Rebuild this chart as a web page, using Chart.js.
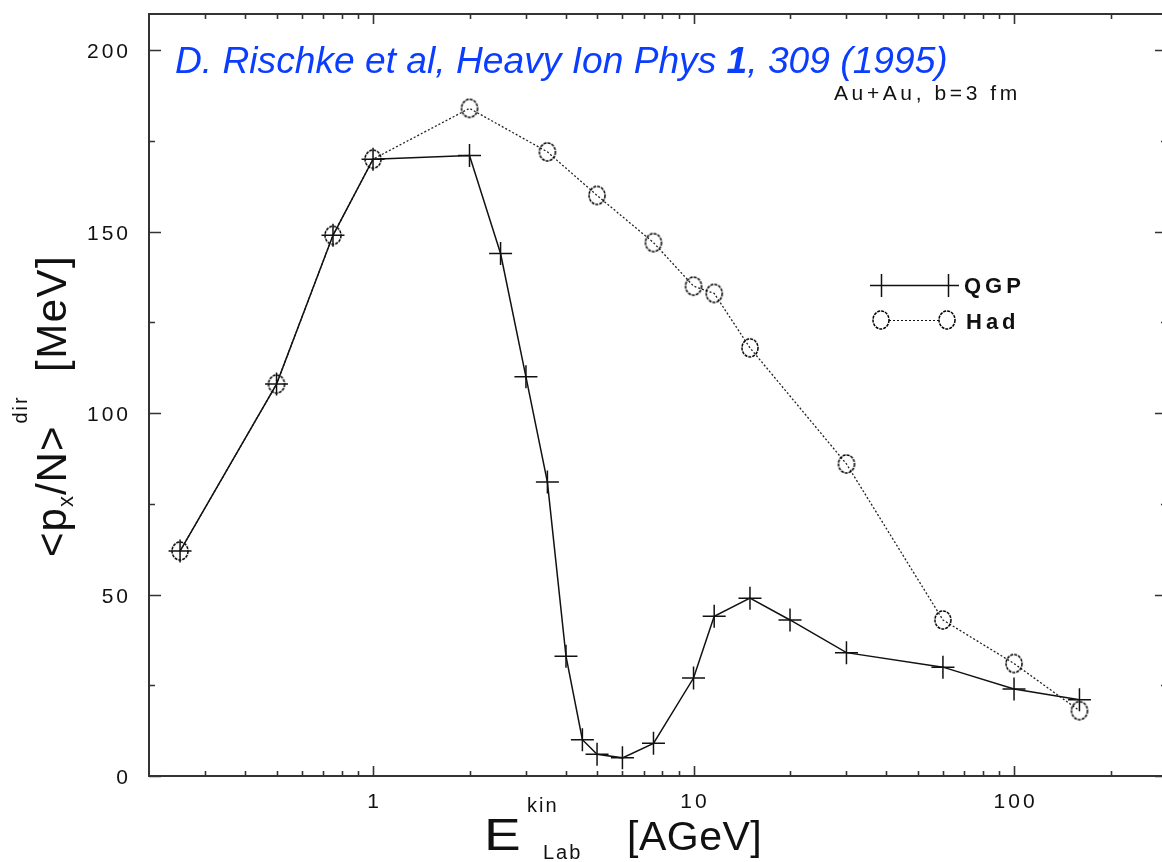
<!DOCTYPE html>
<html><head><meta charset="utf-8">
<script src="https://cdn.jsdelivr.net/npm/chart.js@4"></script>
<style>
html,body{margin:0;padding:0;background:#fff;overflow:hidden;width:1162px;height:862px}
#wrap{position:relative;width:1162px;height:862px}
</style>
</head><body>
<div id="wrap"><canvas id="c" width="1162" height="862"></canvas></div>
<script>
// ---- data ----
const qgpEnergy = [0.25, 0.5, 0.75, 1, 2, 2.5, 3, 3.5, 4, 4.5, 5, 6, 7.5, 10, 11.6, 15, 20, 30, 60, 100, 160];
const qgpFlow   = [62, 108, 149, 170, 171, 144, 110, 81, 33, 10, 6, 5, 9, 27, 44, 49, 43, 34, 30, 24, 21];
const hadEnergy = [0.25, 0.5, 0.75, 1, 2, 3.5, 5, 7.5, 10, 11.6, 15, 30, 60, 100, 160];
const hadFlow   = [62, 108, 149, 170, 184, 172, 160, 147, 135, 133, 118, 86, 43, 31, 18];
const seriesNames = ['QGP', 'Had'];

// x axis: frame spans 0.2 .. 300, picture is cut at about 289.5
const xMin = 0.2, xVisibleMax = 289.5, xFrameMax = 300;
const xTickValues = [0.3,0.4,0.5,0.6,0.7,0.8,0.9,1,2,3,4,5,6,7,8,9,10,20,30,40,50,60,70,80,90,100,200];
const xMajor = [1, 10, 100];
const xTickLabels = ['1', '10', '100'];
const yMin = 0, yMax = 210;
const yTickValues = [0,25,50,75,100,125,150,175,200];
const yMajor = [0, 50, 100, 150, 200];
const yTickLabels = ['0', '50', '100', '150', '200'];

const annotation = ['D. Rischke et al, Heavy Ion Phys ', '1', ', 309 (1995)'];
const subtitle = 'Au+Au, b=3 fm';

const FONT = '"Liberation Sans", Arial, Helvetica, sans-serif';

function circleImg(){
  const c = document.createElement('canvas'); c.width = 20; c.height = 22;
  const g = c.getContext('2d');
  g.strokeStyle = '#000'; g.lineWidth = 1.5; g.setLineDash([3, 1]);
  g.beginPath(); g.ellipse(10, 11, 8, 9, 0, 0, Math.PI*2); g.stroke();
  return c;
}
const hadMarker = circleImg();

function txt(ctx, s, x, y, size, opts){
  opts = opts || {};
  ctx.save();
  ctx.font = (opts.style||'') + ' ' + (opts.weight||'') + ' ' + size + 'px ' + FONT;
  ctx.letterSpacing = (opts.ls||0) + 'px';
  ctx.fillStyle = opts.color || '#111';
  ctx.textAlign = opts.align || 'left';
  ctx.textBaseline = opts.baseline || 'alphabetic';
  ctx.fillText(s, x, y);
  const w = ctx.measureText(s).width;
  ctx.restore();
  return w;
}
function measure(ctx, s, size, opts){
  opts = opts || {};
  ctx.save();
  ctx.font = (opts.style||'') + ' ' + (opts.weight||'') + ' ' + size + 'px ' + FONT;
  ctx.letterSpacing = (opts.ls||0) + 'px';
  const w = ctx.measureText(s).width; ctx.restore(); return w;
}
function noPad(s){ s.paddingTop = 0; s.paddingBottom = 0; s.paddingLeft = 0; s.paddingRight = 0; }

const decor = {
  id: 'decor',
  afterDraw(chart){
    const ctx = chart.ctx;
    const xs = chart.scales.x, ys = chart.scales.y;
    const fx0 = xs.getPixelForValue(xMin), fx1 = xs.getPixelForValue(xFrameMax);
    const fy0 = ys.getPixelForValue(yMax), fy1 = ys.getPixelForValue(yMin);
    ctx.save();
    // frame
    ctx.strokeStyle = '#333'; ctx.lineWidth = 2;
    ctx.strokeRect(fx0, fy0, fx1 - fx0, fy1 - fy0);
    // inward ticks
    ctx.lineWidth = 1.6; ctx.beginPath();
    xTickValues.forEach(v => {
      const px = Math.round(xs.getPixelForValue(v)) + 0.5;
      const L = xMajor.includes(v) ? 10 : 5;
      ctx.moveTo(px, fy1); ctx.lineTo(px, fy1 - L);
      ctx.moveTo(px, fy0); ctx.lineTo(px, fy0 + L);
    });
    yTickValues.forEach(v => {
      const py = Math.round(ys.getPixelForValue(v)) + 0.5;
      const L = yMajor.includes(v) ? 12 : 6;
      ctx.moveTo(fx0, py); ctx.lineTo(fx0 + L, py);
      ctx.moveTo(fx1, py); ctx.lineTo(fx1 - L, py);
    });
    ctx.stroke();
    ctx.restore();

    // tick labels, placed by the scales
    xMajor.forEach((v, i) => {
      txt(ctx, xTickLabels[i], xs.getPixelForValue(v) + 1.5, fy1 + 32, 21, {ls: 3, align: 'center'});
    });
    yMajor.forEach((v, i) => {
      txt(ctx, yTickLabels[i], fx0 - 18, ys.getPixelForValue(v) + 8, 21, {ls: 3, align: 'right'});
    });

    // legend
    ctx.save();
    ctx.strokeStyle = '#111'; ctx.lineWidth = 1.5; ctx.setLineDash([]);
    ctx.beginPath(); ctx.moveTo(870, 285.5); ctx.lineTo(959, 285.5);
    [881, 948].forEach(x => { ctx.moveTo(x + 0.5, 274); ctx.lineTo(x + 0.5, 297); });
    ctx.stroke();
    ctx.lineWidth = 1.2; ctx.setLineDash([2, 2]);
    ctx.beginPath(); ctx.moveTo(889, 320.5); ctx.lineTo(939, 320.5); ctx.stroke();
    ctx.setLineDash([]);
    [881, 947].forEach(x => ctx.drawImage(hadMarker, x - 10, 320 - 11));
    ctx.restore();
    txt(ctx, seriesNames[0], 964, 293, 22, {ls: 4, weight: 'bold'});
    txt(ctx, seriesNames[1], 966, 329, 22, {ls: 4, weight: 'bold'});

    // annotation (blue, italic)
    const blue = '#0b3dff';
    const s0 = 33;
    let w1 = measure(ctx, annotation[0], s0, {style:'italic'});
    let w2 = measure(ctx, annotation[1], s0, {style:'italic', weight:'bold'});
    let w3 = measure(ctx, annotation[2], s0, {style:'italic'});
    const k = 773 / (w1 + w2 + w3), sz = s0 * k;
    let x = 175;
    x += txt(ctx, annotation[0], x, 73, sz, {style:'italic', color: blue});
    x += txt(ctx, annotation[1], x, 73, sz, {style:'italic', weight:'bold', color: blue});
    txt(ctx, annotation[2], x, 73, sz, {style:'italic', color: blue});

    // subtitle
    txt(ctx, subtitle, 834, 100, 21, {ls: 3.6});

    // x title
    ctx.save(); ctx.translate(484, 850); ctx.scale(1.25, 1);
    txt(ctx, 'E', 0, 0, 44, {});
    ctx.restore();
    txt(ctx, 'kin', 527, 812, 20, {ls: 2});
    txt(ctx, 'Lab', 543, 859, 20, {ls: 2});
    txt(ctx, '[AGeV]', 627, 850, 41, {ls: 0.5});

    // y title (rotated)
    ctx.save();
    ctx.translate(66, 557);
    ctx.rotate(-Math.PI/2);
    let u = 0;
    u += txt(ctx, '<p', u, 0, 42, {ls: 1});
    txt(ctx, 'x', u, 7, 22, {ls: 1});
    u += 12;
    u += txt(ctx, '/N>', u, 0, 42, {ls: 1});
    txt(ctx, 'dir', u + 2, -39, 20, {ls: 2});
    txt(ctx, '[MeV]', 185, 0, 42, {ls: 1.5});
    ctx.restore();
  }
};

new Chart(document.getElementById('c'), {
  type: 'scatter',
  data: {
    datasets: [
      {
        label: seriesNames[0],
        data: qgpEnergy.map((e, i) => ({x: e, y: qgpFlow[i]})),
        showLine: true, borderColor: '#111', borderWidth: 1.5,
        pointStyle: 'cross', pointRadius: 11.5, pointBorderWidth: 1.5,
        pointBorderColor: '#111', pointBackgroundColor: '#111'
      },
      {
        label: seriesNames[1],
        data: hadEnergy.map((e, i) => ({x: e, y: hadFlow[i]})),
        showLine: true, borderColor: '#222', borderWidth: 1.3, borderDash: [2, 2],
        pointStyle: hadMarker, pointRadius: 9
      }
    ]
  },
  options: {
    responsive: false, animation: false, devicePixelRatio: 1,
    layout: {autoPadding: false, padding: {top: 14, right: 0, left: 0, bottom: 0}},
    plugins: {legend: {display: false}, tooltip: {enabled: false}, title: {display: false}},
    scales: {
      x: {
        type: 'logarithmic', min: xMin, max: xVisibleMax, position: 'bottom',
        afterBuildTicks: s => { s.ticks = xTickValues.map(v => ({value: v})); },
        afterFit: s => { s.height = 86; noPad(s); },
        grid: {display: false, drawTicks: false}, border: {display: false},
        ticks: {display: false}
      },
      y: {
        type: 'linear', min: yMin, max: yMax,
        afterBuildTicks: s => { s.ticks = yTickValues.map(v => ({value: v})); },
        afterFit: s => { s.width = 149; noPad(s); },
        grid: {display: false, drawTicks: false}, border: {display: false},
        ticks: {display: false}
      }
    }
  },
  plugins: [decor]
});
</script>
</body></html>
